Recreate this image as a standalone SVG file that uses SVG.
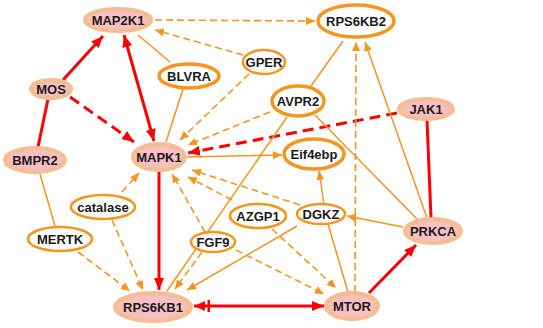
<svg xmlns="http://www.w3.org/2000/svg" width="543" height="328" viewBox="0 0 543 328">
<defs>
<radialGradient id="pk" cx="50%" cy="50%" r="50%">
<stop offset="0%" stop-color="#fbbcc8"/>
<stop offset="70%" stop-color="#f9c0c4"/>
<stop offset="100%" stop-color="#f5c09c"/>
</radialGradient>
<marker id="ao" viewBox="0 0 9 8" refX="9" refY="4" markerWidth="9" markerHeight="8" markerUnits="userSpaceOnUse" orient="auto-start-reverse">
<path d="M0,0 L9,4 L0,8 z" fill="#f7941d"/>
</marker>
<marker id="ar" viewBox="0 0 12 10" refX="12" refY="5" markerWidth="12" markerHeight="10" markerUnits="userSpaceOnUse" orient="auto-start-reverse">
<path d="M0,0 L12,5 L0,10 z" fill="#ff0000"/>
</marker>
<marker id="arb" viewBox="0 0 16 12" refX="16" refY="6" markerWidth="16" markerHeight="12" markerUnits="userSpaceOnUse" orient="auto-start-reverse">
<path d="M5,1 L16,6 L5,11 z" fill="#ff0000"/>
<rect x="0" y="0" width="2.5" height="12" fill="#ff0000"/>
</marker>
</defs>
<style>
.pn{fill:url(#pk);stroke:#f4bd95;stroke-width:4}
.wn{fill:#ffffff;stroke:#f7941d;stroke-width:2.5}
.wt{fill:#ffffff;stroke:#f7941d;stroke-width:3.5}
.t{font-family:"Liberation Sans",Arial,sans-serif;font-weight:bold;font-size:13px;fill:#1a1a1a;text-anchor:middle;dominant-baseline:central}
.rs{stroke:#ff0000;stroke-width:3;fill:none}
.rd{stroke:#ff0000;stroke-width:3;fill:none;stroke-dasharray:11 6}
.os{stroke:#f7941d;stroke-width:1.5;fill:none}
.od{stroke:#f7941d;stroke-width:1.6;fill:none;stroke-dasharray:7 4}
</style>
<rect width="543" height="328" fill="#ffffff"/>
<g id="connectors">
<line class="rs" x1="63" y1="80" x2="103" y2="36" marker-end="url(#ar)"/>
<line class="rs" x1="124" y1="35" x2="154" y2="141" marker-start="url(#ar)" marker-end="url(#ar)"/>
<line class="rs" x1="48" y1="99" x2="38" y2="147"/>
<line class="rs" x1="159" y1="172" x2="159" y2="290" marker-end="url(#ar)"/>
<line class="rs" x1="194" y1="306" x2="324" y2="306" marker-start="url(#arb)" marker-end="url(#ar)"/>
<line class="rs" x1="369" y1="293" x2="416" y2="245" marker-end="url(#ar)"/>
<line class="rs" x1="427" y1="120" x2="431" y2="218"/>
<line class="rd" x1="70" y1="97" x2="134" y2="142" marker-end="url(#ar)"/>
<line class="rd" x1="397" y1="113" x2="188" y2="153" marker-end="url(#ar)"/>
<line class="os" x1="138" y1="35" x2="170" y2="62"/>
<line class="os" x1="183" y1="89" x2="166" y2="142"/>
<line class="os" x1="343" y1="41" x2="311" y2="86"/>
<line class="os" x1="187" y1="157" x2="282" y2="155" marker-end="url(#ao)"/>
<line class="os" x1="287" y1="117" x2="167" y2="291"/>
<line class="os" x1="315" y1="115" x2="418" y2="220"/>
<line class="os" x1="427" y1="218" x2="365" y2="42" marker-end="url(#ao)"/>
<line class="os" x1="403" y1="227" x2="347" y2="216" marker-end="url(#ao)"/>
<line class="os" x1="324" y1="204" x2="319" y2="171" marker-end="url(#ao)"/>
<line class="os" x1="328" y1="224" x2="348" y2="292"/>
<line class="os" x1="297" y1="226" x2="187" y2="290" marker-end="url(#ao)"/>
<line class="os" x1="40" y1="174" x2="55" y2="226"/>
<line class="od" x1="155" y1="20" x2="315" y2="21" marker-end="url(#ao)"/>
<line class="od" x1="243" y1="55" x2="155" y2="30" marker-end="url(#ao)"/>
<line class="od" x1="249" y1="74" x2="180" y2="140" marker-end="url(#ao)"/>
<line class="od" x1="270" y1="112" x2="188" y2="145" marker-end="url(#ao)"/>
<line class="od" x1="355" y1="292" x2="356" y2="42" marker-end="url(#ao)"/>
<line class="od" x1="122" y1="192" x2="139" y2="173" marker-end="url(#ao)"/>
<line class="od" x1="112" y1="220" x2="143" y2="290" marker-end="url(#ao)"/>
<line class="od" x1="78" y1="252" x2="130" y2="291" marker-end="url(#ao)"/>
<line class="od" x1="205" y1="232" x2="172" y2="174" marker-end="url(#ao)"/>
<line class="od" x1="202" y1="252" x2="175" y2="289" marker-end="url(#ao)"/>
<line class="od" x1="300" y1="205" x2="192" y2="170" marker-end="url(#ao)"/>
<line class="od" x1="232" y1="200" x2="188" y2="177" marker-end="url(#ao)"/>
<line class="od" x1="272" y1="229" x2="336" y2="288" marker-end="url(#ao)"/>
<line class="od" x1="236" y1="250" x2="324" y2="294" marker-end="url(#ao)"/>
</g>
<g id="MAP2K1"><ellipse class="pn" cx="118" cy="20" rx="33" ry="11"/><text class="t" x="118" y="20">MAP2K1</text></g>
<g id="RPS6KB2"><ellipse class="wt" cx="356" cy="21" rx="38" ry="16"/><text class="t" x="356" y="21">RPS6KB2</text></g>
<g id="GPER"><ellipse class="wn" cx="264" cy="62" rx="21" ry="12"/><text class="t" x="264" y="62">GPER</text></g>
<g id="BLVRA"><ellipse class="wt" cx="189" cy="76" rx="30" ry="12"/><text class="t" x="189" y="76">BLVRA</text></g>
<g id="MOS"><ellipse class="pn" cx="51" cy="89" rx="20" ry="9"/><text class="t" x="51" y="89">MOS</text></g>
<g id="AVPR2"><ellipse class="wt" cx="298" cy="101" rx="26" ry="15"/><text class="t" x="298" y="101">AVPR2</text></g>
<g id="JAK1"><ellipse class="pn" cx="426" cy="109" rx="27" ry="10"/><text class="t" x="426" y="109">JAK1</text></g>
<g id="MAPK1"><ellipse class="pn" cx="159" cy="157" rx="26" ry="13"/><text class="t" x="159" y="157">MAPK1</text></g>
<g id="Eif4ebp"><ellipse class="wt" cx="314" cy="154" rx="30" ry="15"/><text class="t" x="314" y="154">Eif4ebp</text></g>
<g id="BMPR2"><ellipse class="pn" cx="35" cy="160" rx="30" ry="12"/><text class="t" x="35" y="160">BMPR2</text></g>
<g id="catalase"><ellipse class="wn" cx="103" cy="207" rx="32" ry="12"/><text class="t" x="103" y="207">catalase</text></g>
<g id="MERTK"><ellipse class="wn" cx="60" cy="239" rx="32" ry="12"/><text class="t" x="60" y="239">MERTK</text></g>
<g id="AZGP1"><ellipse class="wn" cx="258" cy="216" rx="28" ry="12"/><text class="t" x="258" y="216">AZGP1</text></g>
<g id="DGKZ"><ellipse class="wn" cx="321" cy="214" rx="24" ry="10"/><text class="t" x="321" y="214">DGKZ</text></g>
<g id="FGF9"><ellipse class="wn" cx="213" cy="242" rx="22" ry="10"/><text class="t" x="213" y="242">FGF9</text></g>
<g id="PRKCA"><ellipse class="pn" cx="433" cy="231" rx="28" ry="12"/><text class="t" x="433" y="231">PRKCA</text></g>
<g id="MTOR"><ellipse class="pn" cx="352" cy="306" rx="26" ry="13"/><text class="t" x="352" y="306">MTOR</text></g>
<g id="RPS6KB1"><ellipse class="pn" cx="153" cy="307" rx="38" ry="14"/><text class="t" x="153" y="307">RPS6KB1</text></g>
</svg>
